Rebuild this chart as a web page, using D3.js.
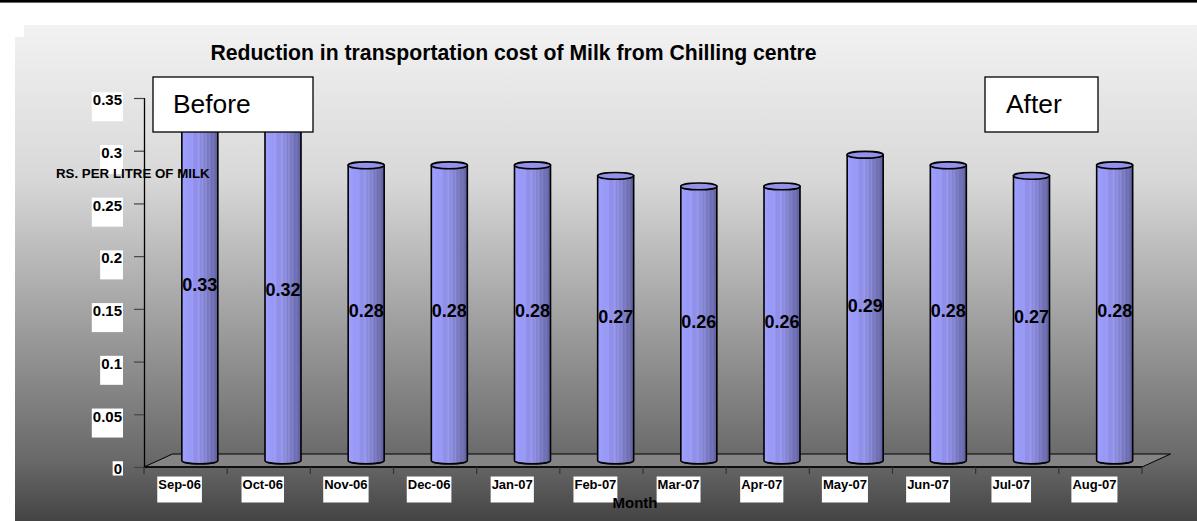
<!DOCTYPE html>
<html>
<head>
<meta charset="utf-8">
<script src="https://cdn.jsdelivr.net/npm/d3@7"></script>
<style>
  html, body { margin: 0; padding: 0; background: #ffffff; }
  svg { display: block; }
  text { font-family: Arial, "Liberation Sans", sans-serif; }
</style>
</head>
<body>
<svg id="chart" width="1197" height="521"></svg>
<script>
// Monthly transportation cost of milk from the chilling centre (Rs. per litre)
const months = ["Sep-06", "Oct-06", "Nov-06", "Dec-06", "Jan-07", "Feb-07",
                "Mar-07", "Apr-07", "May-07", "Jun-07", "Jul-07", "Aug-07"];
const costs = [0.33, 0.32, 0.28, 0.28, 0.28, 0.27, 0.26, 0.26, 0.29, 0.28, 0.27, 0.28];
const yTicks = [0, 0.05, 0.1, 0.15, 0.2, 0.25, 0.3, 0.35];
const titleText = "Reduction in transportation cost of Milk from Chilling centre";
const yTitleText = "RS. PER LITRE OF MILK";
const xTitleText = "Month";
const periodNotes = ["Before", "After"];

const W = 1197, H = 521;
const svg = d3.select("#chart");
const defs = svg.append("defs");

// Page background gradient
const bg = defs.append("linearGradient").attr("id", "bgGrad")
  .attr("gradientUnits", "userSpaceOnUse")
  .attr("x1", 0).attr("y1", 25).attr("x2", 0).attr("y2", H);
[[0, "#f2f2f2"], [0.31, "#d8d8d8"], [0.55, "#a9a9a9"], [0.88, "#686868"], [1, "#444444"]]
  .forEach(([o, c]) => bg.append("stop").attr("offset", o).attr("stop-color", c));

// Cylinder body shading with fine vertical streaks
const barGrad = defs.append("linearGradient").attr("id", "barGrad")
  .attr("x1", 0).attr("y1", 0).attr("x2", 1).attr("y2", 0);
[[0, "#a0a0ff"], [0.2, "#9898f6"], [0.3, "#9c9cf6"], [0.33, "#9090ea"], [0.42, "#9090ea"],
 [0.48, "#9a9aee"], [0.52, "#8888de"], [0.58, "#9292e0"], [0.62, "#8080d0"], [0.67, "#8c8cd6"],
 [0.72, "#7676c2"], [0.77, "#8080c6"], [0.82, "#6e6eb6"], [0.88, "#7474b4"], [0.94, "#6464a8"],
 [1, "#5c5c9c"]]
  .forEach(([o, c]) => barGrad.append("stop").attr("offset", o).attr("stop-color", c));

// Top strip and background panel
svg.append("rect").attr("x", 0).attr("y", 0).attr("width", W).attr("height", 2.6).attr("fill", "#000");
svg.append("path")
  .attr("d", `M24,25 H${W} V${H} H15 V37 H24 Z`)
  .attr("fill", "url(#bgGrad)");

// Scales
const x = d3.scaleBand().domain(months).range([144, 1142]).paddingInner(0).paddingOuter(0);
const y = d3.scaleLinear().domain([0, 0.35]).range([467, 98]);
const depthX = 28.5, depthY = -13;   // 3-D floor depth offset
const barRx = 18, barRy = 3.4;

const x0 = x.range()[0], x1 = x.range()[1], yBase = y(0);

// Floor
svg.append("path")
  .attr("d", `M${x0},${yBase} L${x0 + depthX},${yBase + depthY} L${x1 + depthX},${yBase + depthY} L${x1},${yBase} Z`)
  .attr("fill", "#848484").attr("stroke", "#000").attr("stroke-width", 1);

// Y axis
const yAxis = d3.axisLeft(y).tickValues(yTicks).tickSize(10).tickSizeOuter(0)
  .tickFormat(d => String(+d.toFixed(2)));
const yg = svg.append("g").attr("transform", `translate(${x0},0)`).call(yAxis);
yg.select(".domain").attr("stroke", "#000").attr("stroke-width", 1.3).attr("d", `M0.5,${y(0.35)}V${yBase}`);
yg.selectAll(".tick line").attr("stroke", "#444").attr("stroke-width", 1.2);
yg.selectAll(".tick text")
  .attr("x", -22).attr("dy", "0.45em")
  .attr("font-size", 15).attr("font-weight", "bold").attr("fill", "#000")
  .attr("font-family", "Arial, 'Liberation Sans', sans-serif");
yg.selectAll(".tick").each(function (d) {
  const t = d3.select(this).select("text").node();
  const b = t.getBBox();
  const top = b.y + 1;
  // label backing stops just below the category axis
  const bottom = Math.min(top + 29, yBase + 8 - y(d));
  d3.select(this).insert("rect", "text")
    .attr("x", b.x - 1).attr("y", top)
    .attr("width", b.width + 2).attr("height", Math.max(0, bottom - top))
    .attr("fill", "#fff");
});

// X axis line and category ticks
const xg = svg.append("g");
xg.append("line").attr("x1", x0).attr("x2", x1).attr("y1", yBase).attr("y2", yBase)
  .attr("stroke", "#000").attr("stroke-width", 1.3);
xg.selectAll("line.cat").data(months.concat(["end"])).join("line").attr("class", "cat")
  .attr("x1", (d, i) => i < months.length ? x(d) : x1)
  .attr("x2", (d, i) => i < months.length ? x(d) : x1)
  .attr("y1", yBase).attr("y2", yBase + 7)
  .attr("stroke", "#333").attr("stroke-width", 1.2);

// Cylinders
const bars = svg.append("g").selectAll("g.bar").data(months.map((m, i) => ({ m, v: costs[i] })))
  .join("g").attr("class", "bar");
bars.each(function (d) {
  const g = d3.select(this);
  const cx = x(d.m) + x.bandwidth() / 2 + depthX / 2;
  const yb = y(0) + depthY / 2;
  const yt = y(d.v) + depthY / 2;
  g.append("path")
    .attr("d", `M${cx - barRx},${yt} L${cx - barRx},${yb} A${barRx},${barRy} 0 0 0 ${cx + barRx},${yb} L${cx + barRx},${yt} Z`)
    .attr("fill", "url(#barGrad)").attr("stroke", "#000").attr("stroke-width", 1.6);
  g.append("ellipse").attr("cx", cx).attr("cy", yt).attr("rx", barRx).attr("ry", barRy)
    .attr("fill", "#9292ea").attr("stroke", "#000").attr("stroke-width", 1.6);
  g.append("text")
    .attr("x", cx).attr("y", (yt + yb) / 2 - 2).attr("dy", "0.36em")
    .attr("text-anchor", "middle").attr("font-size", 18).attr("font-weight", "bold").attr("fill", "#000")
    .text(d.v.toFixed(2));
});

// Category labels with white backing
const xl = svg.append("g").selectAll("g").data(months).join("g");
xl.each(function (m) {
  const g = d3.select(this);
  const t = g.append("text")
    .attr("x", x(m) + x.bandwidth() / 2 - 6).attr("y", 489)
    .attr("text-anchor", "middle").attr("font-size", 13).attr("font-weight", "bold").attr("fill", "#000")
    .text(m);
  const b = t.node().getBBox();
  g.insert("rect", "text").attr("x", b.x - 1).attr("y", b.y - 0.5)
    .attr("width", b.width + 2).attr("height", 26).attr("fill", "#fff");
});

// Titles
svg.append("text").attr("x", 513.5).attr("y", 60).attr("text-anchor", "middle")
  .attr("font-size", 21.2).attr("font-weight", "bold").attr("fill", "#000").text(titleText);
svg.append("text").attr("x", 56).attr("y", 178)
  .attr("font-size", 13.3).attr("font-weight", "bold").attr("fill", "#000").text(yTitleText);
svg.append("text").attr("x", 635).attr("y", 508).attr("text-anchor", "middle")
  .attr("font-size", 15).attr("font-weight", "bold").attr("fill", "#000").text(xTitleText);

// Period call-out boxes
const notes = [
  { label: periodNotes[0], x: 153, w: 160, tx: 173 },
  { label: periodNotes[1], x: 985, w: 113, tx: 1006 }
];
const ng = svg.append("g").selectAll("g").data(notes).join("g");
ng.append("rect").attr("x", d => d.x).attr("y", 77).attr("width", d => d.w).attr("height", 55)
  .attr("fill", "#fff").attr("stroke", "#000").attr("stroke-width", 1.3);
ng.append("text").attr("x", d => d.tx).attr("y", 112.5)
  .attr("font-size", 26.4).attr("fill", "#000").text(d => d.label);
</script>
</body>
</html>
